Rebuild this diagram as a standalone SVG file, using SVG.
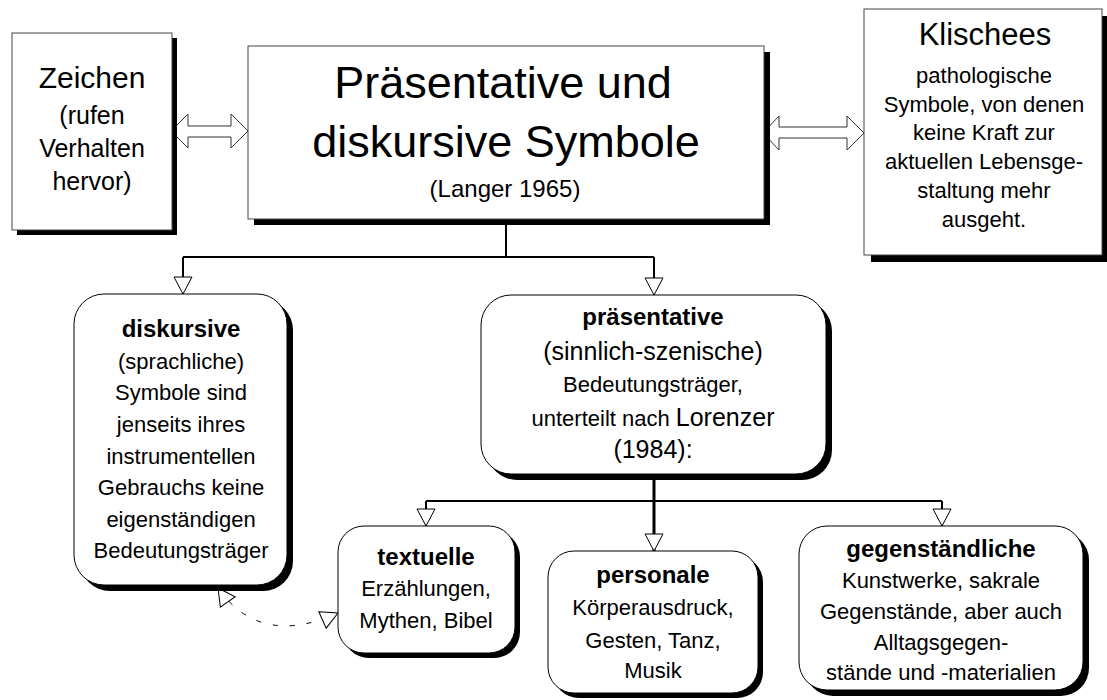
<svg xmlns="http://www.w3.org/2000/svg" width="1107" height="700" viewBox="0 0 1107 700">
<style>
text{font-family:"Liberation Sans",Arial,sans-serif;fill:#000;text-anchor:middle}
.box{fill:#fff;stroke:#444;stroke-width:1}
.sh{fill:#000}
.n{font-size:22px}
.b{font-size:24px;font-weight:bold}
.ln{fill:none;stroke:#000;stroke-width:2}
.dbl{fill:#fff;stroke:#333;stroke-width:1}
</style>
<defs>
<marker id="tri" markerUnits="userSpaceOnUse" markerWidth="22" markerHeight="22" viewBox="0 0 22 22" refX="19" refY="11" orient="auto">
<path d="M2,2 L19,11 L2,20 z" fill="#fff" stroke="#000" stroke-width="1"/>
</marker>
<marker id="triB" markerUnits="userSpaceOnUse" markerWidth="22" markerHeight="22" viewBox="0 0 22 22" refX="19" refY="11" orient="auto-start-reverse">
<path d="M2,2 L19,11 L2,20 z" fill="#fff" stroke="#000" stroke-width="1"/>
</marker>
</defs>
<rect width="1107" height="700" fill="#fff"/>

<g id="connectors">
<polygon class="dbl" points="171,131 188,114 188,126 231,126 231,114 248,131 231,148 231,137 188,137 188,148"/>
<polygon class="dbl" points="763,133 779,116 779,127 847,127 847,116 864,133 847,150 847,138 779,138 779,150"/>
<path class="ln" d="M506,219 V257"/>
<path class="ln" d="M183,257 H654"/>
<path class="ln" d="M183,257 V294" marker-end="url(#tri)"/>
<path class="ln" d="M654,257 V295" marker-end="url(#tri)"/>
<path class="ln" d="M426,501 H942"/>
<path class="ln" d="M426,501 V526" marker-end="url(#tri)"/>
<path class="ln" d="M942,501 V526" marker-end="url(#tri)"/>
<path class="ln" style="stroke-width:3" d="M654,474 V551" marker-end="url(#tri)"/>
<path d="M218,588 Q260,648 338,613" fill="none" stroke="#000" stroke-width="1" stroke-dasharray="5 12" marker-start="url(#triB)" marker-end="url(#triB)"/>
</g>

<g id="zeichen">
<rect class="sh" x="17" y="38" width="160" height="197"/>
<rect class="box" x="12" y="33" width="160" height="197"/>
<text x="92" y="88" style="font-size:30px">Zeichen</text>
<text x="92" y="124" style="font-size:25px">(rufen</text>
<text x="92" y="157" style="font-size:25px">Verhalten</text>
<text x="92" y="190" style="font-size:25px">hervor)</text>
</g>

<g id="main">
<rect class="sh" x="254" y="52" width="516" height="173"/>
<rect class="box" x="248" y="46" width="516" height="173"/>
<text x="503" y="98" style="font-size:45px">Präsentative und</text>
<text x="506" y="157" style="font-size:45px">diskursive Symbole</text>
<text x="505" y="197" style="font-size:24px">(Langer 1965)</text>
</g>

<g id="klischees">
<rect class="sh" x="871" y="16" width="238" height="246"/>
<rect class="box" x="864" y="9" width="238" height="246"/>
<text x="985" y="45" style="font-size:31px">Klischees</text>
<text x="984" y="83" class="n">pathologische</text>
<text x="984" y="112" class="n">Symbole, von denen</text>
<text x="984" y="140" class="n">keine Kraft zur</text>
<text x="984" y="169" class="n">aktuellen Lebensge-</text>
<text x="984" y="198" class="n">staltung mehr</text>
<text x="984" y="227" class="n">ausgeht.</text>
</g>

<g id="diskursive">
<rect class="sh" x="80" y="300" width="213" height="291" rx="30"/>
<rect class="box" x="74" y="294" width="213" height="291" rx="30" style="stroke:#000"/>
<text x="181" y="337" class="b">diskursive</text>
<text x="181" y="369" class="n">(sprachliche)</text>
<text x="181" y="400" class="n">Symbole sind</text>
<text x="181" y="432" class="n">jenseits ihres</text>
<text x="181" y="464" class="n">instrumentellen</text>
<text x="181" y="495" class="n">Gebrauchs keine</text>
<text x="181" y="527" class="n">eigenständigen</text>
<text x="181" y="558" class="n">Bedeutungsträger</text>
</g>

<g id="praesentative">
<rect class="sh" x="487" y="301" width="345" height="179" rx="30"/>
<rect class="box" x="481" y="295" width="345" height="179" rx="30" style="stroke:#000"/>
<text x="653" y="325" class="b">präsentative</text>
<text x="653" y="360" style="font-size:25px">(sinnlich-szenische)</text>
<text x="653" y="392" class="n">Bedeutungsträger,</text>
<text x="653" y="426" class="n">unterteilt nach <tspan style="font-size:25px">Lorenzer</tspan></text>
<text x="653" y="458" style="font-size:25px">(1984):</text>
</g>

<g id="textuelle">
<rect class="sh" x="343" y="531" width="177" height="127" rx="26"/>
<rect class="box" x="338" y="526" width="177" height="127" rx="26" style="stroke:#000"/>
<text x="426" y="565" class="b">textuelle</text>
<text x="426" y="596" class="n">Erzählungen,</text>
<text x="426" y="628" class="n">Mythen, Bibel</text>
</g>

<g id="personale">
<rect class="sh" x="553" y="556" width="210" height="142" rx="26"/>
<rect class="box" x="548" y="551" width="210" height="142" rx="26" style="stroke:#000"/>
<text x="653" y="583" class="b">personale</text>
<text x="653" y="615" class="n">Körperausdruck,</text>
<text x="653" y="648" class="n">Gesten, Tanz,</text>
<text x="653" y="678" class="n">Musik</text>
</g>

<g id="gegenstaendliche">
<rect class="sh" x="805" y="532" width="284" height="164" rx="28"/>
<rect class="box" x="799" y="526" width="284" height="164" rx="28" style="stroke:#000"/>
<text x="941" y="557" class="b">gegenständliche</text>
<text x="941" y="588" class="n">Kunstwerke, sakrale</text>
<text x="941" y="619" class="n">Gegenstände, aber auch</text>
<text x="941" y="650" class="n">Alltagsgegen-</text>
<text x="941" y="680" class="n">stände und -materialien</text>
</g>
</svg>
